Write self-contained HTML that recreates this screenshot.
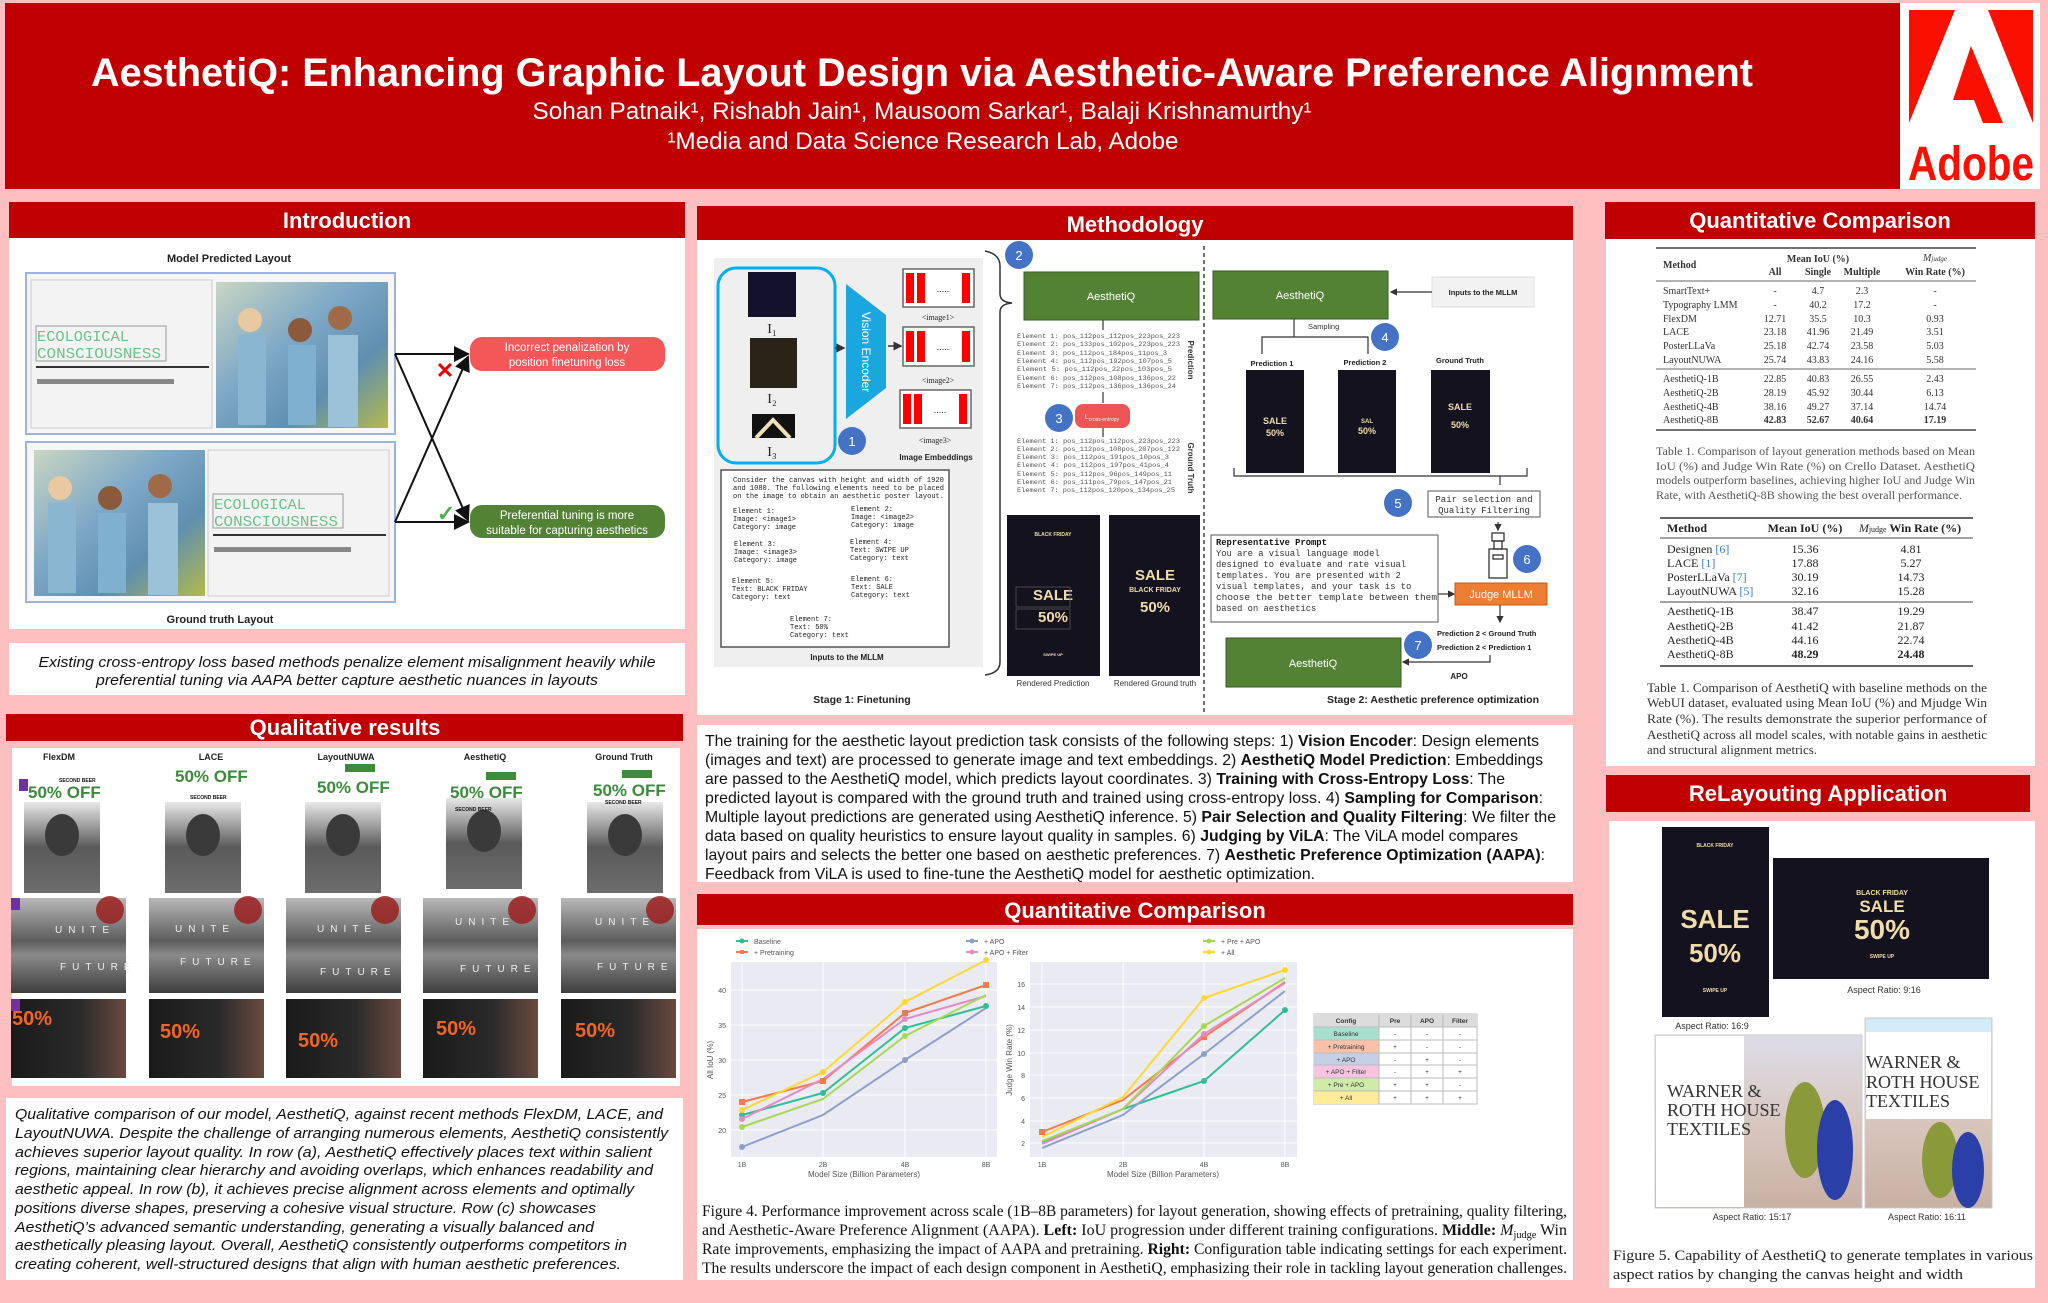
<!DOCTYPE html>
<html><head><meta charset="utf-8"><style>
html,body{margin:0;padding:0;background:#fdbfbf}
svg{display:block}
.s{font-family:"Liberation Sans",sans-serif}
.sb{font-family:"Liberation Sans",sans-serif;font-weight:bold}
.m{font-family:"Liberation Mono",monospace}
.r{font-family:"Liberation Serif",serif}
</style></head><body>
<svg width="2048" height="1303" viewBox="0 0 2048 1303" xmlns="http://www.w3.org/2000/svg">
<defs>
<marker id="ar" markerWidth="8" markerHeight="8" refX="7" refY="4" orient="auto"><path d="M0,0 L8,4 L0,8 z" fill="#111"/></marker>
<marker id="ars" markerWidth="6" markerHeight="6" refX="5" refY="3" orient="auto"><path d="M0,0 L6,3 L0,6 z" fill="#333"/></marker>
<linearGradient id="photo" x1="0" y1="0" x2="1" y2="1"><stop offset="0" stop-color="#c9d6c4"/><stop offset="0.4" stop-color="#7fa9c6"/><stop offset="0.7" stop-color="#5f8fb0"/><stop offset="1" stop-color="#b5b94a"/></linearGradient>
<linearGradient id="park" x1="0" y1="0" x2="0" y2="1"><stop offset="0" stop-color="#b8b8b8"/><stop offset="0.45" stop-color="#5c5c5c"/><stop offset="0.6" stop-color="#8a8a8a"/><stop offset="1" stop-color="#3e3e3e"/></linearGradient>
<linearGradient id="port" x1="0" y1="0" x2="0" y2="1"><stop offset="0" stop-color="#e8e8e8"/><stop offset="0.5" stop-color="#5a5a5a"/><stop offset="1" stop-color="#6d6d6d"/></linearGradient>
<linearGradient id="gym" x1="0" y1="0" x2="1" y2="0"><stop offset="0" stop-color="#1a1a1a"/><stop offset="0.6" stop-color="#2a2a2a"/><stop offset="1" stop-color="#6a4a40"/></linearGradient>
<linearGradient id="sofa" x1="0" y1="0" x2="0" y2="1"><stop offset="0" stop-color="#dcdde8"/><stop offset="0.55" stop-color="#d8c6bc"/><stop offset="1" stop-color="#c8b0a4"/></linearGradient>
</defs>

<!-- HEADER -->
<rect x="5" y="3" width="1895" height="186" fill="#c00000"/>
<text class="sb" x="922" y="86" font-size="40" fill="#fff" text-anchor="middle" textLength="1662" lengthAdjust="spacingAndGlyphs">AesthetiQ: Enhancing Graphic Layout Design via Aesthetic-Aware Preference Alignment</text>
<text class="s" x="922" y="119" font-size="24" fill="#fff" text-anchor="middle" textLength="779" lengthAdjust="spacingAndGlyphs">Sohan Patnaik¹, Rishabh Jain¹, Mausoom Sarkar¹, Balaji Krishnamurthy¹</text>
<text class="s" x="923" y="149" font-size="24" fill="#fff" text-anchor="middle" textLength="511" lengthAdjust="spacingAndGlyphs">¹Media and Data Science Research Lab, Adobe</text>
<rect x="1900" y="3" width="140" height="186" fill="#fff"/>
<polygon points="1909,10 1955,10 1909,123" fill="#fa0f00"/>
<polygon points="1988,10 2033,10 2033,123" fill="#fa0f00"/>
<polygon points="1971,46 2003,123 1983,123 1974,100 1953,100" fill="#fa0f00"/>
<text class="sb" x="1971" y="180" font-size="48" fill="#fa0f00" text-anchor="middle" textLength="126" lengthAdjust="spacingAndGlyphs">Adobe</text>

<!-- INTRODUCTION -->
<rect x="9" y="202" width="676" height="36" fill="#c00000"/>
<text class="sb" x="347" y="228" font-size="22" fill="#fff" text-anchor="middle">Introduction</text>
<rect x="9" y="238" width="676" height="391" fill="#fff"/>
<text class="sb" x="229" y="262" font-size="11" fill="#222" text-anchor="middle">Model Predicted Layout</text>
<rect x="26" y="273" width="369" height="161" fill="#f6f6f6" stroke="#9db3e0" stroke-width="2"/>
<rect x="31" y="280" width="181" height="148" fill="#f3f3f3" stroke="#ccc"/>
<rect x="36" y="326" width="130" height="35" fill="none" stroke="#999"/>
<text class="m" x="37" y="341" font-size="15" fill="#6cc08a" textLength="92" lengthAdjust="spacingAndGlyphs">ECOLOGICAL</text>
<text class="m" x="37" y="358" font-size="15" fill="#6cc08a" textLength="124" lengthAdjust="spacingAndGlyphs">CONSCIOUSNESS</text>
<rect x="36" y="366" width="173" height="2" fill="#333"/>
<rect x="37" y="379" width="137" height="5" fill="#888"/>
<rect x="216" y="282" width="172" height="146" fill="url(#photo)"/>
<circle cx="250" cy="320" r="12" fill="#e8c9a0"/><circle cx="300" cy="330" r="12" fill="#8a5a3a"/><circle cx="340" cy="318" r="12" fill="#a06a48"/>
<rect x="238" y="335" width="28" height="90" fill="#8ab6d2"/><rect x="288" y="345" width="28" height="80" fill="#7fb0d0"/><rect x="328" y="335" width="30" height="92" fill="#9cc2da"/>
<rect x="26" y="442" width="369" height="160" fill="#f6f6f6" stroke="#9db3e0" stroke-width="2"/>
<rect x="34" y="450" width="171" height="146" fill="url(#photo)"/>
<circle cx="60" cy="488" r="12" fill="#e8c9a0"/><circle cx="110" cy="498" r="12" fill="#8a5a3a"/><circle cx="160" cy="486" r="12" fill="#a06a48"/>
<rect x="48" y="503" width="28" height="90" fill="#8ab6d2"/><rect x="98" y="513" width="28" height="80" fill="#7fb0d0"/><rect x="148" y="503" width="30" height="92" fill="#9cc2da"/>
<rect x="208" y="450" width="181" height="146" fill="#f3f3f3" stroke="#ccc"/>
<rect x="213" y="494" width="130" height="34" fill="none" stroke="#999"/>
<text class="m" x="214" y="509" font-size="15" fill="#6cc08a" textLength="92" lengthAdjust="spacingAndGlyphs">ECOLOGICAL</text>
<text class="m" x="214" y="526" font-size="15" fill="#6cc08a" textLength="124" lengthAdjust="spacingAndGlyphs">CONSCIOUSNESS</text>
<rect x="213" y="534" width="173" height="2" fill="#333"/>
<rect x="214" y="547" width="137" height="5" fill="#888"/>
<line x1="395" y1="354" x2="468" y2="354" stroke="#111" stroke-width="2" marker-end="url(#ar)"/>
<line x1="395" y1="354" x2="468" y2="520" stroke="#111" stroke-width="2" marker-end="url(#ar)"/>
<line x1="395" y1="522" x2="468" y2="522" stroke="#111" stroke-width="2" marker-end="url(#ar)"/>
<line x1="395" y1="522" x2="468" y2="357" stroke="#111" stroke-width="2" marker-end="url(#ar)"/>
<text class="sb" x="445" y="378" font-size="22" fill="#e00" text-anchor="middle">✕</text>
<text class="sb" x="446" y="521" font-size="22" fill="#4caf50" text-anchor="middle">✓</text>
<rect x="470" y="337" width="195" height="34" rx="12" fill="#f45757"/>
<text class="s" x="567" y="351" font-size="11.5" fill="#fff" text-anchor="middle">Incorrect penalization by</text>
<text class="s" x="567" y="366" font-size="11.5" fill="#fff" text-anchor="middle">position finetuning loss</text>
<rect x="470" y="505" width="195" height="33" rx="12" fill="#548235"/>
<text class="s" x="567" y="519" font-size="11.5" fill="#fff" text-anchor="middle">Preferential tuning is more</text>
<text class="s" x="567" y="534" font-size="11.5" fill="#fff" text-anchor="middle">suitable for capturing aesthetics</text>
<text class="sb" x="220" y="623" font-size="11" fill="#222" text-anchor="middle">Ground truth Layout</text>
<rect x="9" y="643" width="676" height="52" fill="#fff"/>
<text class="s" x="347" y="667" font-size="15" font-style="italic" fill="#111" text-anchor="middle" textLength="617" lengthAdjust="spacingAndGlyphs">Existing cross-entropy loss based methods penalize element misalignment heavily while</text>
<text class="s" x="347" y="685" font-size="15" font-style="italic" fill="#111" text-anchor="middle" textLength="502" lengthAdjust="spacingAndGlyphs">preferential tuning via AAPA better capture aesthetic nuances in layouts</text>

<!-- QUALITATIVE -->
<rect x="6" y="714" width="677" height="27" fill="#c00000"/>
<text class="sb" x="345" y="735" font-size="22" fill="#fff" text-anchor="middle">Qualitative results</text>
<rect x="12" y="748" width="668" height="338" fill="#fff"/>
<g class="sb" font-size="9" fill="#222" text-anchor="middle">
<text x="59" y="760">FlexDM</text><text x="211" y="760">LACE</text><text x="346" y="760">LayoutNUWA</text><text x="485" y="760">AesthetiQ</text><text x="624" y="760">Ground Truth</text></g>
<rect x="24" y="802" width="76" height="91" fill="url(#port)"/>
<rect x="165" y="802" width="76" height="91" fill="url(#port)"/>
<rect x="305" y="802" width="76" height="91" fill="url(#port)"/>
<rect x="446" y="798" width="76" height="91" fill="url(#port)"/>
<rect x="587" y="802" width="76" height="91" fill="url(#port)"/>
<g fill="#3a3a3a"><ellipse cx="62" cy="835" rx="17" ry="21"/><ellipse cx="203" cy="835" rx="17" ry="21"/><ellipse cx="343" cy="835" rx="17" ry="21"/><ellipse cx="484" cy="831" rx="17" ry="21"/><ellipse cx="625" cy="835" rx="17" ry="21"/></g>
<g class="sb" font-size="17" fill="#3c8c3c">
<text x="28" y="798">50% OFF</text><text x="175" y="782">50% OFF</text><text x="317" y="793">50% OFF</text><text x="450" y="798">50% OFF</text><text x="593" y="796">50% OFF</text></g>
<g class="sb" font-size="5" fill="#111"><text x="59" y="782">SECOND BEER</text><text x="190" y="799">SECOND BEER</text><text x="455" y="811">SECOND BEER</text><text x="605" y="804">SECOND BEER</text></g>
<rect x="345" y="764" width="30" height="8" fill="#3c8c3c"/><rect x="486" y="772" width="30" height="8" fill="#3c8c3c"/><rect x="622" y="770" width="30" height="8" fill="#3c8c3c"/>
<rect x="19" y="779" width="9" height="12" fill="#7030a0"/>
<g>
<rect x="11" y="898" width="115" height="95" fill="url(#park)"/><rect x="149" y="898" width="115" height="95" fill="url(#park)"/><rect x="286" y="898" width="115" height="95" fill="url(#park)"/><rect x="423" y="898" width="115" height="95" fill="url(#park)"/><rect x="561" y="898" width="115" height="95" fill="url(#park)"/>
<g fill="#9b2020" opacity="0.85"><circle cx="110" cy="910" r="14"/><circle cx="248" cy="910" r="14"/><circle cx="385" cy="910" r="14"/><circle cx="522" cy="910" r="14"/><circle cx="660" cy="910" r="14"/></g>
<g class="s" font-size="10" fill="#eee" letter-spacing="6">
<text x="55" y="933">UNITE</text><text x="175" y="932">UNITE</text><text x="317" y="932">UNITE</text><text x="455" y="925">UNITE</text><text x="595" y="925">UNITE</text>
<text x="60" y="970">FUTURE</text><text x="180" y="965">FUTURE</text><text x="320" y="975">FUTURE</text><text x="460" y="972">FUTURE</text><text x="597" y="970">FUTURE</text></g>
<rect x="11" y="898" width="9" height="12" fill="#7030a0"/>
</g>
<g>
<rect x="11" y="999" width="115" height="79" fill="url(#gym)"/><rect x="149" y="999" width="115" height="79" fill="url(#gym)"/><rect x="286" y="999" width="115" height="79" fill="url(#gym)"/><rect x="423" y="999" width="115" height="79" fill="url(#gym)"/><rect x="561" y="999" width="115" height="79" fill="url(#gym)"/>
<g class="sb" font-size="20" fill="#f26522"><text x="12" y="1025">50%</text><text x="160" y="1038">50%</text><text x="298" y="1047">50%</text><text x="436" y="1035">50%</text><text x="575" y="1037">50%</text></g>
<rect x="11" y="999" width="9" height="12" fill="#7030a0"/>
</g>
<rect x="6" y="1098" width="677" height="182" fill="#fff"/>
<g class="s" font-size="15" font-style="italic" fill="#111">
<text x="15" y="1119" textLength="648" lengthAdjust="spacingAndGlyphs">Qualitative comparison of our model, AesthetiQ, against recent methods FlexDM, LACE, and</text>
<text x="15" y="1138" textLength="653" lengthAdjust="spacingAndGlyphs">LayoutNUWA. Despite the challenge of arranging numerous elements, AesthetiQ consistently</text>
<text x="15" y="1157" textLength="637" lengthAdjust="spacingAndGlyphs">achieves superior layout quality. In row (a), AesthetiQ effectively places text within salient</text>
<text x="15" y="1175" textLength="638" lengthAdjust="spacingAndGlyphs">regions, maintaining clear hierarchy and avoiding overlaps, which enhances readability and</text>
<text x="15" y="1194" textLength="619" lengthAdjust="spacingAndGlyphs">aesthetic appeal. In row (b), it achieves precise alignment across elements and optimally</text>
<text x="15" y="1213" textLength="581" lengthAdjust="spacingAndGlyphs">positions diverse shapes, preserving a cohesive visual structure. Row (c) showcases</text>
<text x="15" y="1232" textLength="579" lengthAdjust="spacingAndGlyphs">AesthetiQ’s advanced semantic understanding, generating a visually balanced and</text>
<text x="15" y="1250" textLength="612" lengthAdjust="spacingAndGlyphs">aesthetically pleasing layout. Overall, AesthetiQ consistently outperforms competitors in</text>
<text x="15" y="1269" textLength="606" lengthAdjust="spacingAndGlyphs">creating coherent, well-structured designs that align with human aesthetic preferences.</text>
</g>

<!-- METHODOLOGY -->
<rect x="697" y="206" width="876" height="34" fill="#c00000"/>
<text class="sb" x="1135" y="232" font-size="22" fill="#fff" text-anchor="middle">Methodology</text>
<rect x="697" y="240" width="876" height="475" fill="#fff"/>
<rect x="714" y="258" width="269" height="409" fill="#efefef"/>
<rect x="718" y="268" width="117" height="195" rx="18" fill="none" stroke="#00b0f0" stroke-width="3"/>
<rect x="748" y="272" width="48" height="45" fill="#14112a"/>
<rect x="750" y="338" width="47" height="50" fill="#2a2418"/>
<rect x="752" y="414" width="43" height="24" fill="#111"/>
<polyline points="756,438 773,420 790,438" fill="none" stroke="#f0e0b8" stroke-width="4"/>
<g class="r" font-size="14" fill="#222" text-anchor="middle"><text x="772" y="333">I₁</text><text x="772" y="403">I₂</text><text x="772" y="456">I₃</text></g>
<line x1="835" y1="348" x2="844" y2="348" stroke="#333" stroke-width="1.5" marker-end="url(#ars)"/>
<polygon points="846,284 886,315 886,388 846,419" fill="#1aa7e0"/>
<text class="s" transform="translate(862,352) rotate(90)" font-size="12" fill="#fff" text-anchor="middle">Vision Encoder</text>
<line x1="888" y1="346" x2="901" y2="346" stroke="#333" stroke-width="1.5" marker-end="url(#ars)"/>
<g>
<rect x="903" y="269" width="71" height="38" fill="#fff" stroke="#666" stroke-width="1.5"/><rect x="906" y="273" width="8" height="30" fill="#f00"/><rect x="917" y="273" width="8" height="30" fill="#f00"/><rect x="962" y="273" width="8" height="30" fill="#f00"/><text class="s" x="943" y="292" font-size="9" text-anchor="middle">.....</text>
<rect x="903" y="327" width="71" height="39" fill="#fff" stroke="#666" stroke-width="1.5"/><rect x="906" y="331" width="8" height="31" fill="#f00"/><rect x="917" y="331" width="8" height="31" fill="#f00"/><rect x="962" y="331" width="8" height="31" fill="#f00"/><text class="s" x="943" y="350" font-size="9" text-anchor="middle">.....</text>
<rect x="900" y="390" width="71" height="38" fill="#fff" stroke="#666" stroke-width="1.5"/><rect x="903" y="394" width="8" height="30" fill="#f00"/><rect x="914" y="394" width="8" height="30" fill="#f00"/><rect x="959" y="394" width="8" height="30" fill="#f00"/><text class="s" x="940" y="413" font-size="9" text-anchor="middle">.....</text>
</g>
<g class="r" font-size="8" fill="#222" text-anchor="middle"><text x="938" y="320">&lt;image1&gt;</text><text x="938" y="383">&lt;image2&gt;</text><text x="935" y="443">&lt;image3&gt;</text></g>
<text class="sb" x="936" y="460" font-size="8" fill="#222" text-anchor="middle">Image Embeddings</text>
<circle cx="852" cy="441" r="14" fill="#4472c4"/><text class="s" x="852" y="446" font-size="13" fill="#fff" text-anchor="middle">1</text>
<rect x="721" y="470" width="228" height="177" fill="#fff" stroke="#555" stroke-width="1.5"/>
<g class="m" font-size="7" fill="#222">
<text x="733" y="482" textLength="211" lengthAdjust="spacingAndGlyphs">Consider the canvas with height and width of 1920</text>
<text x="733" y="490" textLength="211" lengthAdjust="spacingAndGlyphs">and 1080. The following elements need to be placed</text>
<text x="733" y="498" textLength="211" lengthAdjust="spacingAndGlyphs">on the image to obtain an aesthetic poster layout.</text>
<text x="733" y="513">Element 1:</text><text x="733" y="521">Image: &lt;image1&gt;</text><text x="733" y="529">Category: image</text>
<text x="851" y="511">Element 2:</text><text x="851" y="519">Image: &lt;image2&gt;</text><text x="851" y="527">Category: image</text>
<text x="734" y="546">Element 3:</text><text x="734" y="554">Image: &lt;image3&gt;</text><text x="734" y="562">Category: image</text>
<text x="850" y="544">Element 4:</text><text x="850" y="552">Text: SWIPE UP</text><text x="850" y="560">Category: text</text>
<text x="732" y="583">Element 5:</text><text x="732" y="591">Text: BLACK FRIDAY</text><text x="732" y="599">Category: text</text>
<text x="851" y="581">Element 6:</text><text x="851" y="589">Text: SALE</text><text x="851" y="597">Category: text</text>
<text x="790" y="621">Element 7:</text><text x="790" y="629">Text: 50%</text><text x="790" y="637">Category: text</text>
</g>
<text class="sb" x="847" y="660" font-size="8" fill="#222" text-anchor="middle">Inputs to the MLLM</text>
<text class="sb" x="862" y="703" font-size="10.5" fill="#222" text-anchor="middle">Stage 1: Finetuning</text>
<path d="M985,251 Q1000,254 1000,266 L1000,294 Q1000,302 1012,303 Q1000,304 1000,312 L1000,662 Q1000,673 985,675" fill="none" stroke="#333" stroke-width="1.5"/>
<circle cx="1019" cy="255" r="14" fill="#4472c4"/><text class="s" x="1019" y="260" font-size="13" fill="#fff" text-anchor="middle">2</text>
<rect x="1024" y="272" width="175" height="48" fill="#548235" stroke="#3a5a24"/>
<text class="s" x="1111" y="300" font-size="11" fill="#fff" text-anchor="middle">AesthetiQ</text>
<line x1="1103" y1="320" x2="1103" y2="330" stroke="#333" stroke-width="1.2"/>
<g class="m" font-size="6.5" fill="#555">
<text x="1017" y="338" textLength="163" lengthAdjust="spacingAndGlyphs">Element 1: pos_112pos_112pos_223pos_223</text>
<text x="1017" y="346" textLength="163" lengthAdjust="spacingAndGlyphs">Element 2: pos_133pos_102pos_223pos_223</text>
<text x="1017" y="355" textLength="150" lengthAdjust="spacingAndGlyphs">Element 3: pos_112pos_184pos_11pos_3</text>
<text x="1017" y="363" textLength="155" lengthAdjust="spacingAndGlyphs">Element 4: pos_112pos_192pos_107pos_5</text>
<text x="1017" y="371" textLength="155" lengthAdjust="spacingAndGlyphs">Element 5: pos_112pos_22pos_103pos_5</text>
<text x="1017" y="380" textLength="159" lengthAdjust="spacingAndGlyphs">Element 6: pos_112pos_108pos_136pos_22</text>
<text x="1017" y="388" textLength="159" lengthAdjust="spacingAndGlyphs">Element 7: pos_112pos_136pos_136pos_24</text>
<text x="1017" y="443" textLength="163" lengthAdjust="spacingAndGlyphs">Element 1: pos_112pos_112pos_223pos_223</text>
<text x="1017" y="451" textLength="163" lengthAdjust="spacingAndGlyphs">Element 2: pos_112pos_108pos_207pos_122</text>
<text x="1017" y="459" textLength="152" lengthAdjust="spacingAndGlyphs">Element 3: pos_112pos_191pos_10pos_3</text>
<text x="1017" y="467" textLength="152" lengthAdjust="spacingAndGlyphs">Element 4: pos_112pos_197pos_41pos_4</text>
<text x="1017" y="476" textLength="155" lengthAdjust="spacingAndGlyphs">Element 5: pos_112pos_96pos_149pos_11</text>
<text x="1017" y="484" textLength="155" lengthAdjust="spacingAndGlyphs">Element 6: pos_111pos_79pos_147pos_21</text>
<text x="1017" y="492" textLength="158" lengthAdjust="spacingAndGlyphs">Element 7: pos_112pos_120pos_134pos_25</text>
</g>
<text class="sb" transform="translate(1188,360) rotate(90)" font-size="8" fill="#333" text-anchor="middle">Prediction</text>
<text class="sb" transform="translate(1188,468) rotate(90)" font-size="8" fill="#333" text-anchor="middle">Ground Truth</text>
<line x1="1103" y1="392" x2="1103" y2="403" stroke="#333" stroke-width="1.2"/>
<line x1="1103" y1="428" x2="1103" y2="437" stroke="#333" stroke-width="1.2"/>
<circle cx="1059" cy="418" r="14" fill="#4472c4"/><text class="s" x="1059" y="423" font-size="13" fill="#fff" text-anchor="middle">3</text>
<rect x="1075" y="404" width="55" height="24" rx="8" fill="#f05555"/>
<text class="s" x="1102" y="419" font-size="7" fill="#fff" text-anchor="middle">L<tspan font-size="5" dy="2">cross-entropy</tspan></text>
<rect x="1007" y="515" width="93" height="161" fill="#15121f"/>
<rect x="1109" y="515" width="91" height="161" fill="#15121f"/>
<g class="sb" fill="#f0dca8" text-anchor="middle">
<text x="1053" y="536" font-size="5">BLACK FRIDAY</text><text x="1053" y="600" font-size="15">SALE</text><text x="1053" y="622" font-size="15">50%</text><text x="1053" y="656" font-size="4">SWIPE UP</text>
<text x="1155" y="580" font-size="15">SALE</text><text x="1155" y="592" font-size="7">BLACK FRIDAY</text><text x="1155" y="612" font-size="15">50%</text>
</g>
<rect x="1016" y="587" width="54" height="20" fill="none" stroke="#555" stroke-width="0.8"/>
<rect x="1016" y="609" width="54" height="20" fill="none" stroke="#555" stroke-width="0.8"/>
<g class="s" font-size="8" fill="#333" text-anchor="middle"><text x="1053" y="686">Rendered Prediction</text><text x="1155" y="686">Rendered Ground truth</text></g>
<line x1="1204" y1="246" x2="1204" y2="715" stroke="#444" stroke-width="1.5" stroke-dasharray="4,3"/>

<rect x="1213" y="271" width="175" height="48" fill="#548235" stroke="#3a5a24"/>
<text class="s" x="1300" y="299" font-size="11" fill="#fff" text-anchor="middle">AesthetiQ</text>
<rect x="1432" y="277" width="102" height="30" fill="#f2f2f2" stroke="#ddd"/>
<text class="sb" x="1483" y="295" font-size="7.5" fill="#222" text-anchor="middle">Inputs to the MLLM</text>
<line x1="1432" y1="292" x2="1391" y2="292" stroke="#333" stroke-width="1.2" marker-end="url(#ars)"/>
<polyline points="1294,319 1294,337" fill="none" stroke="#333" stroke-width="1.2"/>
<polyline points="1262,354 1262,337 1368,337 1368,354" fill="none" stroke="#333" stroke-width="1.2"/>
<text class="s" x="1308" y="329" font-size="7.5" fill="#333">Sampling</text>
<circle cx="1385" cy="337" r="14" fill="#4472c4"/><text class="s" x="1385" y="342" font-size="13" fill="#fff" text-anchor="middle">4</text>
<g class="sb" font-size="7.5" fill="#222" text-anchor="middle"><text x="1272" y="366">Prediction 1</text><text x="1365" y="365">Prediction 2</text><text x="1460" y="363">Ground Truth</text></g>
<rect x="1246" y="370" width="58" height="103" fill="#15121f"/>
<rect x="1338" y="370" width="58" height="103" fill="#15121f"/>
<rect x="1431" y="370" width="59" height="103" fill="#15121f"/>
<g class="sb" fill="#f0dca8" text-anchor="middle"><text x="1275" y="424" font-size="9">SALE</text><text x="1275" y="436" font-size="9">50%</text><text x="1367" y="434" font-size="9">50%</text><text x="1367" y="423" font-size="6">SAL</text><text x="1460" y="410" font-size="9">SALE</text><text x="1460" y="428" font-size="9">50%</text></g>
<polyline points="1234,468 1234,476 1527,476 1527,468" fill="none" stroke="#333" stroke-width="1.2"/>
<line x1="1500" y1="476" x2="1500" y2="485" stroke="#333" stroke-width="1.2"/>
<circle cx="1398" cy="503" r="14" fill="#4472c4"/><text class="s" x="1398" y="508" font-size="13" fill="#fff" text-anchor="middle">5</text>
<rect x="1428" y="491" width="112" height="26" fill="#fff" stroke="#555"/>
<g class="m" font-size="9" fill="#333" text-anchor="middle"><text x="1484" y="502">Pair selection and</text><text x="1484" y="513">Quality Filtering</text></g>
<line x1="1498" y1="522" x2="1498" y2="530" stroke="#333" stroke-width="1.2" marker-end="url(#ars)"/>
<g fill="none" stroke="#333" stroke-width="1.3"><rect x="1492" y="533" width="12" height="8"/><rect x="1494" y="541" width="8" height="8"/><rect x="1489" y="549" width="18" height="29"/><rect x="1493" y="555" width="10" height="4"/></g>
<circle cx="1527" cy="559" r="14" fill="#4472c4"/><text class="s" x="1527" y="564" font-size="13" fill="#fff" text-anchor="middle">6</text>
<rect x="1211" y="535" width="227" height="87" fill="#fff" stroke="#555"/>
<g class="m" font-size="8.8" fill="#333">
<text x="1216" y="545" font-weight="bold" fill="#111">Representative Prompt</text>
<text x="1216" y="556">You are a visual language model</text>
<text x="1216" y="567">designed to evaluate and rate visual</text>
<text x="1216" y="578">templates. You are presented with 2</text>
<text x="1216" y="589">visual templates, and your task is to</text>
<text x="1216" y="600" textLength="221" lengthAdjust="spacingAndGlyphs">choose the better template between them</text>
<text x="1216" y="611">based on aesthetics</text>
</g>
<line x1="1438" y1="594" x2="1454" y2="594" stroke="#333" stroke-width="1.2" marker-end="url(#ars)"/>
<rect x="1455" y="583" width="92" height="22" fill="#ed7d31" stroke="#c55a11"/>
<text class="s" x="1501" y="598" font-size="11" fill="#fff" text-anchor="middle">Judge MLLM</text>
<line x1="1500" y1="605" x2="1500" y2="622" stroke="#333" stroke-width="1.2" marker-end="url(#ars)"/>
<g class="sb" font-size="7.5" fill="#222"><text x="1437" y="636">Prediction 2 &lt; Ground Truth</text><text x="1437" y="650">Prediction 2 &lt; Prediction 1</text></g>
<circle cx="1418" cy="645" r="14" fill="#4472c4"/><text class="s" x="1418" y="650" font-size="13" fill="#fff" text-anchor="middle">7</text>
<polyline points="1490,655 1490,662 1403,662" fill="none" stroke="#333" stroke-width="1.2" marker-end="url(#ars)"/>
<rect x="1226" y="638" width="175" height="49" fill="#548235" stroke="#3a5a24"/>
<text class="s" x="1313" y="667" font-size="11" fill="#fff" text-anchor="middle">AesthetiQ</text>
<text class="sb" x="1459" y="679" font-size="8" fill="#222" text-anchor="middle">APO</text>
<text class="sb" x="1433" y="703" font-size="10.5" fill="#222" text-anchor="middle">Stage 2: Aesthetic preference optimization</text>

<rect x="697" y="725" width="876" height="157" fill="#fff"/>
<g class="s" font-size="16" fill="#111">
<text x="705" y="746" textLength="834" lengthAdjust="spacingAndGlyphs">The training for the aesthetic layout prediction task consists of the following steps: 1) <tspan font-weight="bold">Vision Encoder</tspan>: Design elements</text>
<text x="705" y="765" textLength="838" lengthAdjust="spacingAndGlyphs">(images and text) are processed to generate image and text embeddings. 2) <tspan font-weight="bold">AesthetiQ Model Prediction</tspan>: Embeddings</text>
<text x="705" y="784" textLength="800" lengthAdjust="spacingAndGlyphs">are passed to the AesthetiQ model, which predicts layout coordinates. 3) <tspan font-weight="bold">Training with Cross-Entropy Loss</tspan>: The</text>
<text x="705" y="803" textLength="838" lengthAdjust="spacingAndGlyphs">predicted layout is compared with the ground truth and trained  using cross-entropy loss. 4) <tspan font-weight="bold">Sampling for Comparison</tspan>:</text>
<text x="705" y="822" textLength="851" lengthAdjust="spacingAndGlyphs">Multiple layout predictions are generated using AesthetiQ inference. 5) <tspan font-weight="bold">Pair Selection and Quality Filtering</tspan>: We filter the</text>
<text x="705" y="841" textLength="813" lengthAdjust="spacingAndGlyphs">data based on quality heuristics to ensure layout quality in samples. 6) <tspan font-weight="bold">Judging by ViLA</tspan>: The ViLA model compares</text>
<text x="705" y="860" textLength="840" lengthAdjust="spacingAndGlyphs">layout pairs and selects the better one based on aesthetic preferences. 7) <tspan font-weight="bold">Aesthetic Preference Optimization (AAPA)</tspan>:</text>
<text x="705" y="879" textLength="610" lengthAdjust="spacingAndGlyphs">Feedback from ViLA is used to fine-tune the AesthetiQ model for aesthetic optimization.</text>
</g>

<!-- MIDDLE QUANT -->
<rect x="697" y="894" width="876" height="31" fill="#c00000"/>
<text class="sb" x="1135" y="918" font-size="22" fill="#fff" text-anchor="middle">Quantitative Comparison</text>
<rect x="697" y="929" width="876" height="351" fill="#fff"/>
<g class="s" font-size="7" fill="#555">
<line x1="736" y1="941" x2="748" y2="941" stroke="#2fbf95" stroke-width="2"/><circle cx="742" cy="941" r="2.5" fill="#2fbf95"/><text x="754" y="944">Baseline</text>
<line x1="736" y1="952" x2="748" y2="952" stroke="#f7794f" stroke-width="2"/><rect x="740" y="950" width="4" height="4" fill="#f7794f"/><text x="754" y="955">+ Pretraining</text>
<line x1="966" y1="941" x2="978" y2="941" stroke="#8da0cb" stroke-width="2"/><circle cx="972" cy="941" r="2.5" fill="#8da0cb"/><text x="984" y="944">+ APO</text>
<line x1="966" y1="952" x2="978" y2="952" stroke="#e78ac3" stroke-width="2"/><circle cx="972" cy="952" r="2.5" fill="#e78ac3"/><text x="984" y="955">+ APO + Filter</text>
<line x1="1203" y1="941" x2="1215" y2="941" stroke="#a6d854" stroke-width="2"/><circle cx="1209" cy="941" r="2.5" fill="#a6d854"/><text x="1221" y="944">+ Pre + APO</text>
<line x1="1203" y1="952" x2="1215" y2="952" stroke="#ffd92f" stroke-width="2"/><circle cx="1209" cy="952" r="2.5" fill="#ffd92f"/><text x="1221" y="955">+ All</text>
</g>
<rect x="731" y="962" width="266" height="195" fill="#eaeaf2"/>
<rect x="1030" y="962" width="267" height="195" fill="#eaeaf2"/>
<g stroke="#fff" stroke-width="1">
<line x1="731" y1="1130" x2="997" y2="1130"/><line x1="731" y1="1095" x2="997" y2="1095"/><line x1="731" y1="1060" x2="997" y2="1060"/><line x1="731" y1="1025" x2="997" y2="1025"/><line x1="731" y1="990" x2="997" y2="990"/>
<line x1="742" y1="962" x2="742" y2="1157"/><line x1="823" y1="962" x2="823" y2="1157"/><line x1="905" y1="962" x2="905" y2="1157"/><line x1="986" y1="962" x2="986" y2="1157"/>
<line x1="1030" y1="1143" x2="1297" y2="1143"/><line x1="1030" y1="1121" x2="1297" y2="1121"/><line x1="1030" y1="1098" x2="1297" y2="1098"/><line x1="1030" y1="1075" x2="1297" y2="1075"/><line x1="1030" y1="1053" x2="1297" y2="1053"/><line x1="1030" y1="1030" x2="1297" y2="1030"/><line x1="1030" y1="1007" x2="1297" y2="1007"/><line x1="1030" y1="984" x2="1297" y2="984"/>
<line x1="1042" y1="962" x2="1042" y2="1157"/><line x1="1123" y1="962" x2="1123" y2="1157"/><line x1="1204" y1="962" x2="1204" y2="1157"/><line x1="1285" y1="962" x2="1285" y2="1157"/>
</g>
<g class="s" font-size="7" fill="#555" text-anchor="end">
<text x="726" y="1133">20</text><text x="726" y="1098">25</text><text x="726" y="1063">30</text><text x="726" y="1028">35</text><text x="726" y="993">40</text>
<text x="1025" y="1146">2</text><text x="1025" y="1124">4</text><text x="1025" y="1101">6</text><text x="1025" y="1078">8</text><text x="1025" y="1056">10</text><text x="1025" y="1033">12</text><text x="1025" y="1010">14</text><text x="1025" y="987">16</text>
</g>
<g class="s" font-size="7" fill="#555" text-anchor="middle">
<text x="742" y="1167">1B</text><text x="823" y="1167">2B</text><text x="905" y="1167">4B</text><text x="986" y="1167">8B</text>
<text x="1042" y="1167">1B</text><text x="1123" y="1167">2B</text><text x="1204" y="1167">4B</text><text x="1285" y="1167">8B</text>
<text x="864" y="1177" font-size="8">Model Size (Billion Parameters)</text><text x="1163" y="1177" font-size="8">Model Size (Billion Parameters)</text>
<text transform="translate(713,1060) rotate(-90)" font-size="8">All IoU (%)</text>
<text transform="translate(1012,1060) rotate(-90)" font-size="8">Judge Win Rate (%)</text>
</g>
<g fill="none" stroke-width="2">
<polyline stroke="#2fbf95" points="742,1115 823,1093 905,1028 986,1006"/>
<polyline stroke="#f7794f" points="742,1102 823,1081 905,1013 986,985"/>
<polyline stroke="#8da0cb" points="742,1147 823,1115 905,1060 986,1008"/>
<polyline stroke="#e78ac3" points="742,1119 823,1079 905,1019 986,996"/>
<polyline stroke="#a6d854" points="742,1127 823,1099 905,1036 986,995"/>
<polyline stroke="#ffd92f" points="742,1110 823,1072 905,1002 986,960"/>
<polyline stroke="#2fbf95" points="1042,1142 1123,1109 1204,1081 1285,1010"/>
<polyline stroke="#f7794f" points="1042,1132 1123,1100 1204,1037 1285,982"/>
<polyline stroke="#8da0cb" points="1042,1148 1123,1115 1204,1054 1285,991"/>
<polyline stroke="#e78ac3" points="1042,1144 1123,1109 1204,1034 1285,983"/>
<polyline stroke="#a6d854" points="1042,1141 1123,1109 1204,1026 1285,978"/>
<polyline stroke="#ffd92f" points="1042,1137 1123,1097 1204,998 1285,970"/>
</g>
<g>
<g fill="#2fbf95"><circle cx="742" cy="1115" r="3"/><circle cx="823" cy="1093" r="3"/><circle cx="905" cy="1028" r="3"/><circle cx="986" cy="1006" r="3"/><circle cx="1204" cy="1081" r="3"/><circle cx="1285" cy="1010" r="3"/></g>
<g fill="#f7794f"><rect x="739" y="1099" width="6" height="6"/><rect x="820" y="1078" width="6" height="6"/><rect x="902" y="1010" width="6" height="6"/><rect x="983" y="982" width="6" height="6"/><rect x="1039" y="1129" width="6" height="6"/><rect x="1201" y="1034" width="6" height="6"/></g>
<g fill="#ffd92f"><circle cx="742" cy="1110" r="3"/><circle cx="823" cy="1072" r="3"/><circle cx="905" cy="1002" r="3"/><circle cx="986" cy="960" r="3"/><circle cx="1204" cy="998" r="3"/><circle cx="1285" cy="970" r="3"/></g>
<g fill="#e78ac3"><circle cx="742" cy="1119" r="3"/><circle cx="905" cy="1019" r="3"/><circle cx="1204" cy="1034" r="3"/></g>
<g fill="#a6d854"><circle cx="742" cy="1127" r="3"/><circle cx="905" cy="1036" r="3"/><circle cx="1204" cy="1026" r="3"/></g>
<g fill="#8da0cb"><circle cx="742" cy="1147" r="3"/><circle cx="905" cy="1060" r="3"/><circle cx="1204" cy="1054" r="3"/></g>
</g>
<g class="s" font-size="6.5" fill="#333" text-anchor="middle">
<rect x="1314" y="1014" width="163" height="90" fill="#fff" stroke="#bbb"/>
<rect x="1314" y="1014" width="163" height="13" fill="#dcdcdc"/>
<rect x="1314" y="1027" width="65" height="12.8" fill="#a8e0cf"/>
<rect x="1314" y="1040" width="65" height="12.8" fill="#fcc1a8"/>
<rect x="1314" y="1053" width="65" height="12.8" fill="#c5d0e6"/>
<rect x="1314" y="1065" width="65" height="12.8" fill="#f6c4e1"/>
<rect x="1314" y="1078" width="65" height="12.8" fill="#d0eba8"/>
<rect x="1314" y="1091" width="65" height="13" fill="#ffeb98"/>
<g stroke="#bbb"><line x1="1379" y1="1014" x2="1379" y2="1104"/><line x1="1411" y1="1014" x2="1411" y2="1104"/><line x1="1443" y1="1014" x2="1443" y2="1104"/>
<line x1="1314" y1="1027" x2="1477" y2="1027"/><line x1="1314" y1="1040" x2="1477" y2="1040"/><line x1="1314" y1="1053" x2="1477" y2="1053"/><line x1="1314" y1="1065" x2="1477" y2="1065"/><line x1="1314" y1="1078" x2="1477" y2="1078"/><line x1="1314" y1="1091" x2="1477" y2="1091"/></g>
<text x="1346" y="1023" font-weight="bold">Config</text><text x="1395" y="1023" font-weight="bold">Pre</text><text x="1427" y="1023" font-weight="bold">APO</text><text x="1460" y="1023" font-weight="bold">Filter</text>
<text x="1346" y="1036">Baseline</text><text x="1346" y="1049">+ Pretraining</text><text x="1346" y="1062">+ APO</text><text x="1346" y="1074">+ APO + Filter</text><text x="1346" y="1087">+ Pre + APO</text><text x="1346" y="1100">+ All</text>
<text x="1395" y="1036">-</text><text x="1427" y="1036">-</text><text x="1460" y="1036">-</text>
<text x="1395" y="1049">+</text><text x="1427" y="1049">-</text><text x="1460" y="1049">-</text>
<text x="1395" y="1062">-</text><text x="1427" y="1062">+</text><text x="1460" y="1062">-</text>
<text x="1395" y="1074">-</text><text x="1427" y="1074">+</text><text x="1460" y="1074">+</text>
<text x="1395" y="1087">+</text><text x="1427" y="1087">+</text><text x="1460" y="1087">-</text>
<text x="1395" y="1100">+</text><text x="1427" y="1100">+</text><text x="1460" y="1100">+</text>
</g>
<g class="r" font-size="15.5" fill="#111">
<text x="702" y="1216" textLength="865" lengthAdjust="spacingAndGlyphs">Figure 4. Performance improvement across scale (1B–8B parameters) for layout generation, showing effects of pretraining, quality filtering,</text>
<text x="702" y="1235" textLength="865" lengthAdjust="spacingAndGlyphs">and Aesthetic-Aware Preference Alignment (AAPA). <tspan font-weight="bold">Left:</tspan> IoU progression under different training configurations. <tspan font-weight="bold">Middle:</tspan> <tspan font-style="italic">M</tspan><tspan font-size="10" dy="3">judge</tspan><tspan dy="-3"> Win</tspan></text>
<text x="702" y="1254" textLength="865" lengthAdjust="spacingAndGlyphs">Rate improvements, emphasizing the impact of AAPA and pretraining. <tspan font-weight="bold">Right:</tspan> Configuration table indicating settings for each experiment.</text>
<text x="702" y="1273" textLength="865" lengthAdjust="spacingAndGlyphs">The results underscore the impact of each design component in AesthetiQ, emphasizing their role in tackling layout generation challenges.</text>
</g>

<!-- RIGHT QUANT -->
<rect x="1605" y="202" width="430" height="37" fill="#c00000"/>
<text class="sb" x="1820" y="228" font-size="22" fill="#fff" text-anchor="middle">Quantitative Comparison</text>
<rect x="1606" y="239" width="429" height="527" fill="#fff"/>
<g class="r" font-size="10" fill="#333">
<line x1="1656" y1="248" x2="1976" y2="248" stroke="#444" stroke-width="1.5"/>
<line x1="1656" y1="281" x2="1976" y2="281" stroke="#666"/>
<line x1="1656" y1="369" x2="1976" y2="369" stroke="#666"/>
<line x1="1656" y1="430" x2="1976" y2="430" stroke="#444" stroke-width="1.5"/>
<text x="1663" y="268" font-weight="bold">Method</text>
<text x="1818" y="262" text-anchor="middle" font-weight="bold">Mean IoU (%)</text>
<text x="1935" y="261" text-anchor="middle" font-style="italic">M<tspan font-size="7">judge</tspan></text>
<g font-weight="bold" text-anchor="middle"><text x="1775" y="275">All</text><text x="1818" y="275">Single</text><text x="1862" y="275">Multiple</text><text x="1935" y="275">Win Rate (%)</text></g>
<g><text x="1663" y="294">SmartText+</text><text x="1663" y="308">Typography LMM</text><text x="1663" y="322">FlexDM</text><text x="1663" y="335">LACE</text><text x="1663" y="349">PosterLLaVa</text><text x="1663" y="363">LayoutNUWA</text>
<text x="1663" y="382">AesthetiQ-1B</text><text x="1663" y="396">AesthetiQ-2B</text><text x="1663" y="410">AesthetiQ-4B</text><text x="1663" y="423">AesthetiQ-8B</text></g>
<g text-anchor="middle">
<text x="1775" y="294">-</text><text x="1818" y="294">4.7</text><text x="1862" y="294">2.3</text><text x="1935" y="294">-</text>
<text x="1775" y="308">-</text><text x="1818" y="308">40.2</text><text x="1862" y="308">17.2</text><text x="1935" y="308">-</text>
<text x="1775" y="322">12.71</text><text x="1818" y="322">35.5</text><text x="1862" y="322">10.3</text><text x="1935" y="322">0.93</text>
<text x="1775" y="335">23.18</text><text x="1818" y="335">41.96</text><text x="1862" y="335">21.49</text><text x="1935" y="335">3.51</text>
<text x="1775" y="349">25.18</text><text x="1818" y="349">42.74</text><text x="1862" y="349">23.58</text><text x="1935" y="349">5.03</text>
<text x="1775" y="363">25.74</text><text x="1818" y="363">43.83</text><text x="1862" y="363">24.16</text><text x="1935" y="363">5.58</text>
<text x="1775" y="382">22.85</text><text x="1818" y="382">40.83</text><text x="1862" y="382">26.55</text><text x="1935" y="382">2.43</text>
<text x="1775" y="396">28.19</text><text x="1818" y="396">45.92</text><text x="1862" y="396">30.44</text><text x="1935" y="396">6.13</text>
<text x="1775" y="410">38.16</text><text x="1818" y="410">49.27</text><text x="1862" y="410">37.14</text><text x="1935" y="410">14.74</text>
<g font-weight="bold"><text x="1775" y="423">42.83</text><text x="1818" y="423">52.67</text><text x="1862" y="423">40.64</text><text x="1935" y="423">17.19</text></g>
</g>
</g>
<g class="r" font-size="11.5" fill="#555">
<text x="1656" y="455" textLength="319" lengthAdjust="spacingAndGlyphs">Table 1. Comparison of layout generation methods based on Mean</text>
<text x="1656" y="470" textLength="319" lengthAdjust="spacingAndGlyphs">IoU (%) and Judge Win Rate (%) on Crello Dataset.  AesthetiQ</text>
<text x="1656" y="484" textLength="319" lengthAdjust="spacingAndGlyphs">models outperform baselines, achieving higher IoU and Judge Win</text>
<text x="1656" y="499" textLength="306" lengthAdjust="spacingAndGlyphs">Rate, with AesthetiQ-8B showing the best overall performance.</text>
</g>
<g class="r" font-size="12" fill="#222">
<line x1="1660" y1="518" x2="1973" y2="518" stroke="#333" stroke-width="1.5"/>
<line x1="1660" y1="538" x2="1973" y2="538" stroke="#444"/>
<line x1="1660" y1="602" x2="1973" y2="602" stroke="#444"/>
<line x1="1660" y1="666" x2="1973" y2="666" stroke="#333" stroke-width="1.5"/>
<text x="1667" y="532" font-weight="bold">Method</text>
<text x="1805" y="532" font-weight="bold" text-anchor="middle">Mean IoU (%)</text>
<text x="1910" y="532" text-anchor="middle"><tspan font-style="italic">M</tspan><tspan font-size="8">judge</tspan><tspan font-weight="bold"> Win Rate (%)</tspan></text>
<text x="1667" y="553">Designen <tspan fill="#3a7bd5">[6]</tspan></text>
<text x="1667" y="567">LACE <tspan fill="#3a7bd5">[1]</tspan></text>
<text x="1667" y="581">PosterLLaVa <tspan fill="#3a7bd5">[7]</tspan></text>
<text x="1667" y="595">LayoutNUWA <tspan fill="#3a7bd5">[5]</tspan></text>
<text x="1667" y="615">AesthetiQ-1B</text><text x="1667" y="630">AesthetiQ-2B</text><text x="1667" y="644">AesthetiQ-4B</text><text x="1667" y="658">AesthetiQ-8B</text>
<g text-anchor="middle">
<text x="1805" y="553">15.36</text><text x="1911" y="553">4.81</text>
<text x="1805" y="567">17.88</text><text x="1911" y="567">5.27</text>
<text x="1805" y="581">30.19</text><text x="1911" y="581">14.73</text>
<text x="1805" y="595">32.16</text><text x="1911" y="595">15.28</text>
<text x="1805" y="615">38.47</text><text x="1911" y="615">19.29</text>
<text x="1805" y="630">41.42</text><text x="1911" y="630">21.87</text>
<text x="1805" y="644">44.16</text><text x="1911" y="644">22.74</text>
<text x="1805" y="658" font-weight="bold">48.29</text><text x="1911" y="658" font-weight="bold">24.48</text>
</g>
</g>
<g class="r" font-size="13" fill="#333">
<text x="1647" y="692" textLength="340" lengthAdjust="spacingAndGlyphs">Table 1.  Comparison of AesthetiQ with baseline methods on the</text>
<text x="1647" y="707" textLength="340" lengthAdjust="spacingAndGlyphs">WebUI dataset, evaluated using Mean IoU (%) and Mjudge Win</text>
<text x="1647" y="723" textLength="340" lengthAdjust="spacingAndGlyphs">Rate (%).  The results demonstrate the superior performance of</text>
<text x="1647" y="739" textLength="340" lengthAdjust="spacingAndGlyphs">AesthetiQ across all model scales, with notable gains in aesthetic</text>
<text x="1647" y="754" textLength="170" lengthAdjust="spacingAndGlyphs">and structural alignment metrics.</text>
</g>

<!-- RELAYOUTING -->
<rect x="1606" y="775" width="424" height="37" fill="#c00000"/>
<text class="sb" x="1818" y="801" font-size="22" fill="#fff" text-anchor="middle">ReLayouting Application</text>
<rect x="1609" y="821" width="426" height="467" fill="#fff"/>
<rect x="1662" y="827" width="107" height="190" fill="#15121f"/>
<rect x="1773" y="858" width="216" height="121" fill="#15121f"/>
<g class="sb" fill="#f0dca8" text-anchor="middle">
<text x="1715" y="847" font-size="5">BLACK FRIDAY</text><text x="1715" y="928" font-size="26">SALE</text><text x="1715" y="962" font-size="26">50%</text><text x="1715" y="992" font-size="5">SWIPE UP</text>
<text x="1882" y="895" font-size="7">BLACK FRIDAY</text><text x="1882" y="912" font-size="17">SALE</text><text x="1882" y="939" font-size="28">50%</text><text x="1882" y="958" font-size="5">SWIPE UP</text>
</g>
<g class="s" font-size="9" fill="#333" text-anchor="middle"><text x="1884" y="993">Aspect Ratio: 9:16</text><text x="1712" y="1029">Aspect Ratio: 16:9</text><text x="1752" y="1220">Aspect Ratio: 15:17</text><text x="1927" y="1220">Aspect Ratio: 16:11</text></g>
<rect x="1655" y="1035" width="207" height="173" fill="url(#sofa)" stroke="#ccc"/>
<rect x="1656" y="1036" width="88" height="171" fill="#fff"/>
<rect x="1865" y="1018" width="127" height="190" fill="url(#sofa)" stroke="#ccc"/>
<rect x="1866" y="1019" width="125" height="100" fill="#fff"/>
<rect x="1866" y="1019" width="125" height="13" fill="#d4ecf7"/>
<g fill="#8a9a3a"><ellipse cx="1805" cy="1130" rx="20" ry="48"/><ellipse cx="1940" cy="1160" rx="18" ry="38"/></g>
<g fill="#2b3fa8"><ellipse cx="1835" cy="1150" rx="18" ry="50"/><ellipse cx="1968" cy="1170" rx="16" ry="38"/></g>
<g class="r" font-size="18" fill="#333">
<text x="1667" y="1097">WARNER &amp;</text><text x="1667" y="1116">ROTH HOUSE</text><text x="1667" y="1135">TEXTILES</text>
<text x="1866" y="1068">WARNER &amp;</text><text x="1866" y="1088">ROTH HOUSE</text><text x="1866" y="1107">TEXTILES</text>
</g>
<g class="r" font-size="15" fill="#222">
<text x="1613" y="1260" textLength="420" lengthAdjust="spacingAndGlyphs">Figure 5. Capability of AesthetiQ to generate templates in various</text>
<text x="1613" y="1279" textLength="350" lengthAdjust="spacingAndGlyphs">aspect ratios by changing the canvas height and width</text>
</g>
</svg>
</body></html>
